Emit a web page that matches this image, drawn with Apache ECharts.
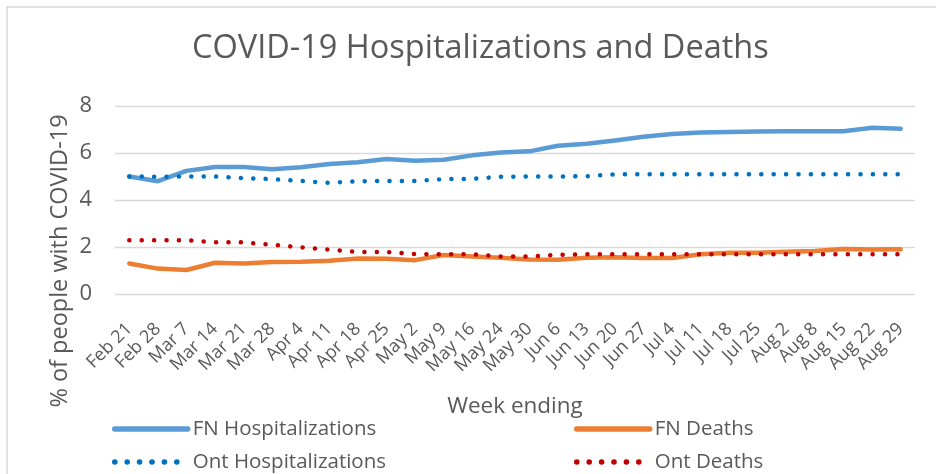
<!DOCTYPE html>
<html>
<head>
<meta charset="utf-8">
<script src="https://cdn.jsdelivr.net/npm/echarts@6/dist/echarts.min.js"></script>
<style>
  html, body { margin: 0; padding: 0; background: #fff; }
  #chart { width: 936px; height: 474px; }
</style>
</head>
<body>
<div id="chart"></div>
<script>
// week ending dates
var weeks = ['Feb 21', 'Feb 28', 'Mar 7', 'Mar 14', 'Mar 21', 'Mar 28', 'Apr 4', 'Apr 11', 'Apr 18', 'Apr 25',
  'May 2', 'May 9', 'May 16', 'May 24', 'May 30', 'Jun 6', 'Jun 13', 'Jun 20', 'Jun 27', 'Jul 4',
  'Jul 11', 'Jul 18', 'Jul 25', 'Aug 2', 'Aug 8', 'Aug 15', 'Aug 22', 'Aug 29'];

var fnHosp = [5.0, 4.8, 5.24, 5.4, 5.4, 5.31, 5.39, 5.53, 5.61, 5.74, 5.67, 5.71, 5.9, 6.02,
  6.07, 6.31, 6.39, 6.53, 6.69, 6.81, 6.87, 6.89, 6.91, 6.93, 6.93, 6.93, 7.07, 7.03];
var fnDeaths = [1.3, 1.08, 1.02, 1.33, 1.3, 1.36, 1.37, 1.41, 1.51, 1.5, 1.44, 1.66, 1.6, 1.54,
  1.47, 1.46, 1.54, 1.56, 1.53, 1.53, 1.69, 1.76, 1.76, 1.8, 1.83, 1.91, 1.89, 1.9];
var ontHosp = [5.0, 4.99, 5.0, 5.0, 4.93, 4.89, 4.81, 4.73, 4.8, 4.81, 4.81, 4.89, 4.9, 4.99,
  5.0, 5.0, 5.01, 5.09, 5.1, 5.1, 5.1, 5.1, 5.1, 5.1, 5.1, 5.1, 5.1, 5.1];
var ontDeaths = [2.29, 2.29, 2.29, 2.2, 2.2, 2.09, 1.99, 1.89, 1.79, 1.79, 1.7, 1.69, 1.69, 1.6,
  1.59, 1.67, 1.69, 1.69, 1.69, 1.69, 1.69, 1.69, 1.69, 1.69, 1.69, 1.69, 1.69, 1.69];

var yTicks = [0, 2, 4, 6, 8];

var font = 'Open Sans';
var grey = '#595959';
var dots = [0.1, 12.3];

var myChart = echarts.init(document.getElementById('chart'));

function solid(name, data, color) {
  return {
    name: name, type: 'line', data: data, symbol: 'none', silent: true,
    lineStyle: { color: color, width: 4.5, cap: 'round', join: 'round' },
    itemStyle: { color: color }
  };
}
function dotted(name, data, color) {
  return {
    name: name, type: 'line', data: data, symbol: 'none', silent: true,
    lineStyle: { color: color, width: 4.5, type: dots, cap: 'round', join: 'round' },
    itemStyle: { color: color }
  };
}

function legendCol(names, left) {
  return {
    data: names,
    orient: 'vertical', left: left, top: 418, height: 60, padding: 0,
    itemWidth: 73, itemHeight: 12, itemGap: 11,
    itemStyle: { opacity: 0 },
    lineStyle: { width: 5.5 },
    textStyle: { fontFamily: font, fontSize: 20.5, color: grey, lineHeight: 22 }
  };
}

var option = {
  animation: false,
  title: {
    text: 'COVID-19 Hospitalizations and Deaths',
    left: 192,
    top: 32,
    padding: 0,
    textStyle: { fontFamily: font, fontSize: 32.5, fontWeight: 'normal', color: grey }
  },
  grid: { left: 115, right: 21, top: 106, bottom: 180 },
  legend: [
    legendCol(['FN Hospitalizations', 'Ont Hospitalizations'], 112),
    legendCol(['FN Deaths', 'Ont Deaths'], 574)
  ],
  xAxis: {
    type: 'category',
    data: weeks,
    name: 'Week ending',
    nameLocation: 'middle',
    nameGap: 101,
    nameTextStyle: { fontFamily: font, fontSize: 22.5, color: grey },
    axisLine: { show: false },
    axisTick: { show: false },
    axisLabel: { rotate: 45, interval: 0, margin: 32, padding: [8, 0, 0, 0],
      fontFamily: font, fontSize: 18, color: grey }
  },
  yAxis: {
    type: 'value',
    min: yTicks[0], max: yTicks[yTicks.length - 1], interval: 2,
    axisLabel: { margin: 23, fontFamily: font, fontSize: 22, color: grey },
    splitLine: { lineStyle: { color: '#d9d9d9', width: 1.3 } }
  },
  graphic: [{
    type: 'rect', silent: true,
    shape: { x: 7, y: 7, width: 960, height: 500 },
    style: { fill: 'none', stroke: '#d9d9d9', lineWidth: 1.5 }
  }, {
    type: 'text', silent: true,
    x: 60, y: 261, rotation: Math.PI / 2,
    style: { text: '% of people with COVID-19', fontFamily: font, fontSize: 23.5, fill: grey,
      align: 'center', verticalAlign: 'middle' }
  }],
  series: [
    solid('FN Hospitalizations', fnHosp, '#5B9BD5'),
    solid('FN Deaths', fnDeaths, '#ED7D31'),
    dotted('Ont Hospitalizations', ontHosp, '#0070C0'),
    dotted('Ont Deaths', ontDeaths, '#C00000')
  ]
};
myChart.setOption(option);
</script>
</body>
</html>
